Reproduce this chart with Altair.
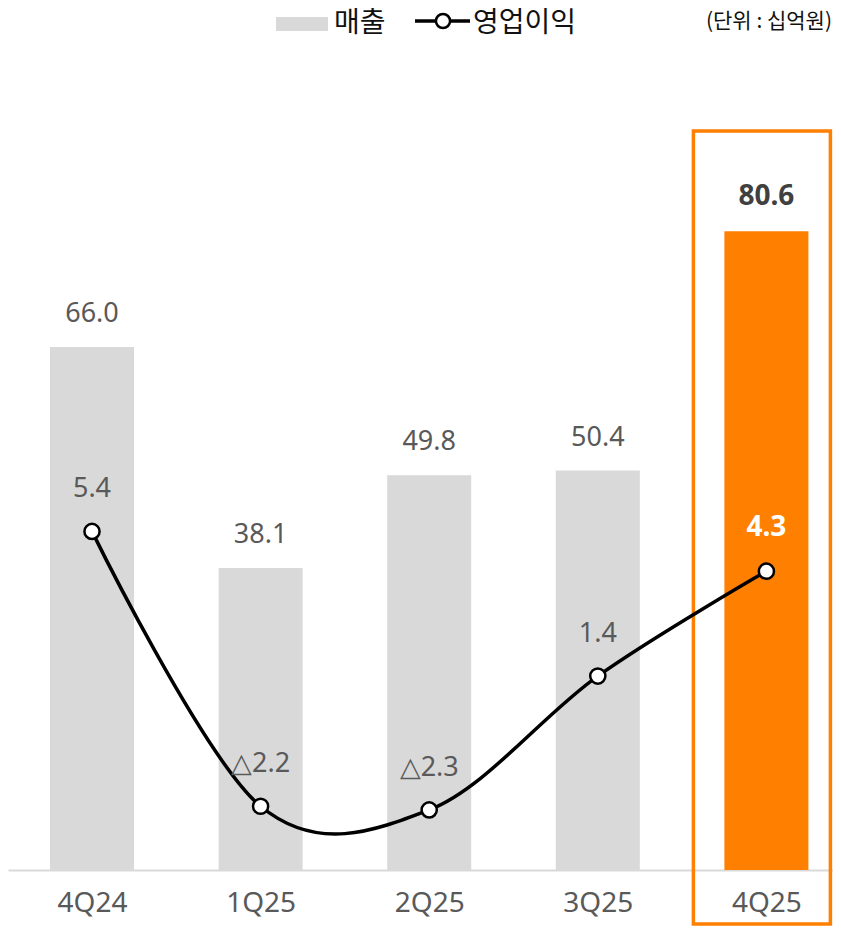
import altair as alt
import pandas as pd
import numpy as np

# ---- data ----
quarters = ["4Q24", "1Q25", "2Q25", "3Q25", "4Q25"]
sales = [66.0, 38.1, 49.8, 50.4, 80.6]          # 매출
op_profit = [5.4, -2.2, -2.3, 1.4, 4.3]          # 영업이익
highlight_quarter = "4Q25"
legend_labels = ["매출", "영업이익"]
unit_label = "(단위 : 십억원)"

# ---- styles / layout ----
FONT_KR = "Noto Sans CJK KR"
FONT_NUM = "Noto Sans"
GREY = "#d9d9d9"
ORANGE = "#ff7f00"
TXT = "#595959"
PAD_TOP, PAD_BOTTOM = 4, 58
ORIGIN_Y = 8 + PAD_TOP          # page y of plot top
BASE_Y = 870                    # page y of the baseline
W = 825
H = BASE_Y - ORIGIN_Y
STEP = 168.6
FIRST = 84
BAR_PX = 7.926                  # px per unit (sales)
LINE_PX = 36.17                 # px per unit (op profit)
LINE_ZERO = 726.7 - ORIGIN_Y


def ry(y_abs):
    return y_abs - ORIGIN_Y


def rx(x_abs):
    return x_abs - 8


df = pd.DataFrame({"quarter": quarters, "idx": list(range(len(quarters))),
                   "sales": sales, "op": op_profit})
df["sales_label"] = df["sales"].map(lambda v: f"{v:.1f}")
df["op_label"] = df["op"].map(lambda v: f"△{abs(v):.1f}" if v < 0 else f"{v:.1f}")
df["hl"] = df["quarter"] == highlight_quarter
df["bar_color"] = np.where(df["hl"], ORANGE, GREY)

x_domain = [-FIRST / STEP, (W - FIRST) / STEP]
label_expr = "[" + ",".join(f"'{q}'" for q in quarters) + "][datum.value]"
x_scale = alt.Scale(domain=x_domain, nice=False, zero=False, padding=0)
x_axis = alt.Axis(values=list(range(len(quarters))), labelExpr=label_expr,
                  title=None, ticks=False, grid=False, labelFont=FONT_NUM,
                  labelFontSize=28, labelColor=TXT, domainColor=GREY,
                  domainWidth=2, labelPadding=19, labelFlush=False)
X = alt.X("idx:Q", scale=x_scale, axis=x_axis)

bar_scale = alt.Scale(domain=[0, H / BAR_PX], nice=False, zero=False, padding=0)
line_scale = alt.Scale(domain=[-(H - LINE_ZERO) / LINE_PX, LINE_ZERO / LINE_PX],
                       nice=False, zero=False, padding=0)

base = alt.Chart(df)

bars = base.mark_bar(size=84).encode(
    x=X,
    y=alt.Y("sales:Q", scale=bar_scale, axis=None),
    color=alt.Color("bar_color:N", scale=None),
)
bar_labels = base.mark_text(font=FONT_NUM, fontSize=27, color=TXT, dy=-33,
                            baseline="middle").encode(
    x=X, y=alt.Y("sales:Q", scale=bar_scale, axis=None), text="sales_label:N"
).transform_filter("!datum.hl")
bar_label_hl = base.mark_text(font=FONT_NUM, fontSize=28, color="#404040", fontWeight="bold",
                              dy=-34, baseline="middle").encode(
    x=X, y=alt.Y("sales:Q", scale=bar_scale, axis=None), text="sales_label:N"
).transform_filter("datum.hl")

hl_box = base.transform_filter("datum.hl").transform_calculate(
    box_l=f"datum.idx - {73 / STEP}", box_r=f"datum.idx + {64 / STEP}"
).mark_rect(fillOpacity=0, stroke=ORANGE, strokeWidth=3.5).encode(
    x=alt.X("box_l:Q", scale=x_scale, axis=x_axis),
    x2="box_r:Q",
    y=alt.value(ry(131)), y2=alt.value(ry(924)),
)

# legend (custom)
leg1 = alt.Chart(pd.DataFrame({"t": [legend_labels[0]]}))
leg2 = alt.Chart(pd.DataFrame({"t": [legend_labels[1]]}))
leg3 = alt.Chart(pd.DataFrame({"t": [unit_label]}))
leg_rect = leg1.mark_rect(color=GREY).encode(
    x=alt.value(rx(276)), x2=alt.value(rx(328)), y=alt.value(ry(17)), y2=alt.value(ry(31)))
leg_t1 = leg1.mark_text(font=FONT_KR, fontSize=28, color="#111111", align="left",
                        baseline="middle").encode(x=alt.value(rx(334)), y=alt.value(ry(23.5)),
                                                  text="t:N")
leg_line = leg2.mark_rule(color="black", strokeWidth=3.5).encode(
    x=alt.value(rx(415)), x2=alt.value(rx(470)), y=alt.value(ry(21)))
leg_pt = leg2.mark_point(shape="circle", filled=True, fill="white", stroke="black",
                         strokeWidth=2.5, size=200, opacity=1).encode(
    x=alt.value(rx(443)), y=alt.value(ry(21)))
leg_t2 = leg2.mark_text(font=FONT_KR, fontSize=28, color="#111111", align="left",
                        baseline="middle").encode(x=alt.value(rx(473)), y=alt.value(ry(23.5)),
                                                  text="t:N")
leg_t3 = leg3.mark_text(font=FONT_KR, fontSize=21, color="#111111", align="right",
                        baseline="middle").encode(x=alt.value(rx(832)), y=alt.value(ry(22)),
                                                  text="t:N")

line = base.mark_line(interpolate="cardinal", color="black", strokeWidth=3.5).encode(
    x=X, y=alt.Y("op:Q", scale=line_scale, axis=None))
pts = base.mark_point(shape="circle", filled=True, fill="white", stroke="black",
                      strokeWidth=2.5, size=230, opacity=1).encode(
    x=X, y=alt.Y("op:Q", scale=line_scale, axis=None))
op_labels = base.mark_text(font=FONT_NUM, fontSize=27, color=TXT, dy=-42,
                           baseline="middle").encode(
    x=X, y=alt.Y("op:Q", scale=line_scale, axis=None), text="op_label:N"
).transform_filter("!datum.hl")
op_label_hl = base.mark_text(font=FONT_NUM, fontSize=28, color="white", fontWeight="bold",
                             dy=-43, baseline="middle").encode(
    x=X, y=alt.Y("op:Q", scale=line_scale, axis=None), text="op_label:N"
).transform_filter("datum.hl")

bar_layer = alt.layer(bars, bar_labels, bar_label_hl, hl_box,
                      leg_rect, leg_t1, leg_line, leg_pt, leg_t2, leg_t3)
line_layer = alt.layer(line, pts, op_labels, op_label_hl)

chart = alt.layer(bar_layer, line_layer).resolve_scale(y="independent").properties(
    width=W, height=H,
    autosize=alt.AutoSizeParams(type="none"),
    padding={"left": 0, "right": 0, "top": PAD_TOP, "bottom": PAD_BOTTOM},
).configure_view(stroke=None)

chart.save("out.html", embed_options={"renderer": "svg", "actions": False})
